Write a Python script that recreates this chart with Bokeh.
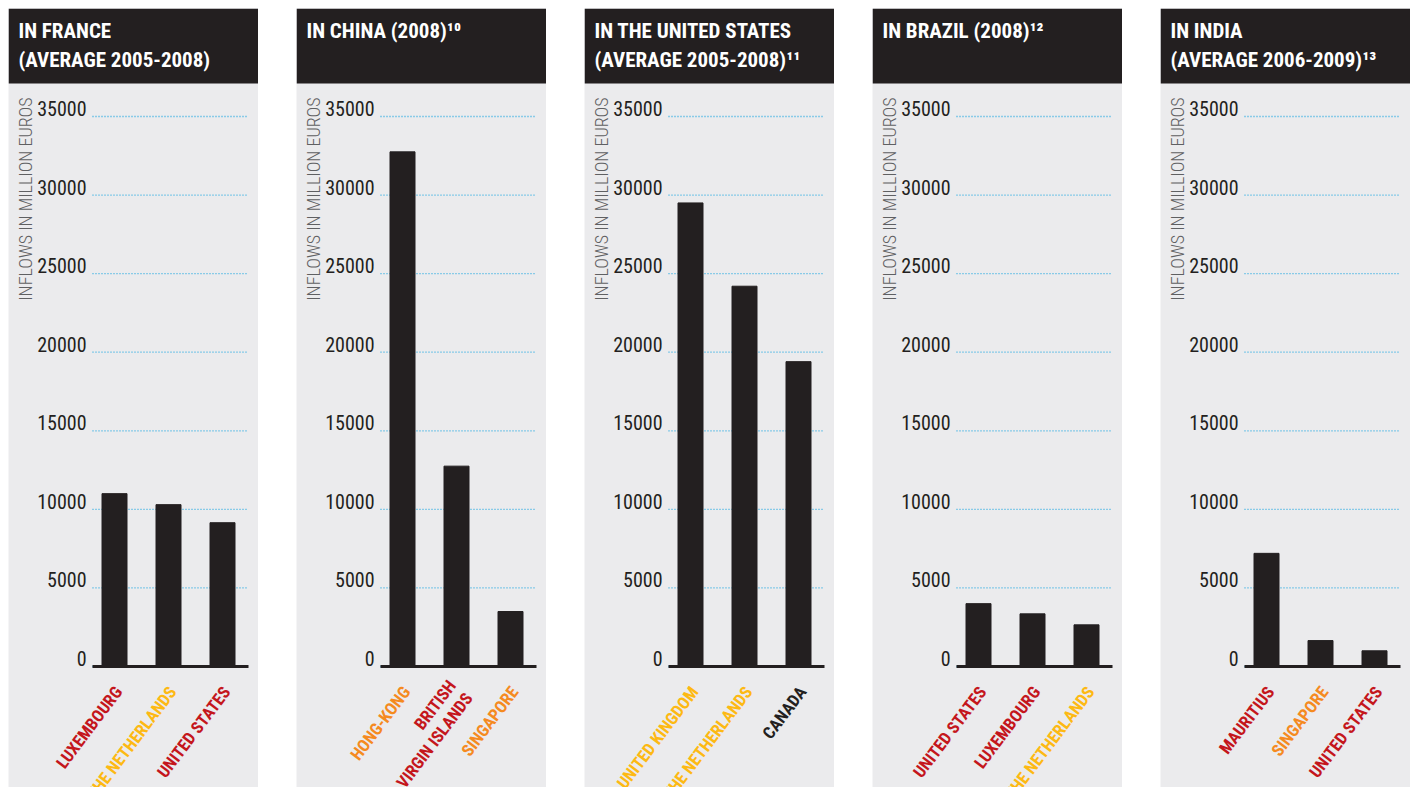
import math
from bokeh.plotting import figure
from bokeh.models import ColumnDataSource, Label, BoxAnnotation, Range1d
from bokeh.layouts import row
from bokeh.embed import file_html
from bokeh.resources import INLINE
from bokeh.core.properties import value

# ---------------- data ----------------
france_titles = ["IN FRANCE", "(AVERAGE 2005-2008)"]
france_countries = ["LUXEMBOURG", "THE NETHERLANDS", "UNITED STATES"]
france_values = [11000, 10300, 9150]

china_titles = ["IN CHINA (2008)\u00b9\u2070"]
china_countries = ["HONG-KONG", "BRITISH\nVIRGIN ISLANDS", "SINGAPORE"]
china_values = [32750, 12750, 3500]

us_titles = ["IN THE UNITED STATES", "(AVERAGE 2005-2008)\u00b9\u00b9"]
us_countries = ["UNITED KINGDOM", "THE NETHERLANDS", "CANADA"]
us_values = [29500, 24200, 19400]

brazil_titles = ["IN BRAZIL (2008)\u00b9\u00b2"]
brazil_countries = ["UNITED STATES", "LUXEMBOURG", "THE NETHERLANDS"]
brazil_values = [4000, 3350, 2650]

india_titles = ["IN INDIA", "(AVERAGE 2006-2009)\u00b9\u00b3"]
india_countries = ["MAURITIUS", "SINGAPORE", "UNITED STATES"]
india_values = [7200, 1650, 1000]

y_ticks = [0, 5000, 10000, 15000, 20000, 25000, 30000, 35000]
y_title = "INFLOWS IN MILLION EUROS"

# ---------------- styles ----------------
RED = "#c4161c"
YELLOW = "#fdb913"
ORANGE = "#f58a1f"
BLACK = "#231f20"
DARK = "#231f20"
BG = "#ebebed"
GRID = "#27aae1"
AXIS_TXT = "#5f6062"
FONT = "Roboto Condensed, DejaVu Sans Condensed, sans-serif"
FONT_LIGHT = "Roboto Condensed Light, Roboto Condensed, DejaVu Sans Condensed, sans-serif"

label_colors = {
    "france": [RED, YELLOW, RED],
    "china": [ORANGE, RED, ORANGE],
    "us": [YELLOW, YELLOW, BLACK],
    "brazil": [RED, RED, YELLOW],
    "india": [RED, ORANGE, RED],
}

# ---------------- panel geometry (pixels within one panel) ----------------
W, H = 250, 779
PX_PER_X = 54.0            # pixels per category step
FIRST_BAR_PX = 106.0       # centre of first bar
PX_PER_Y = 550.0 / 35000   # pixels per million euros
ZERO_PY = 658.0            # pixel row of the zero line
X_LEFT = -FIRST_BAR_PX / PX_PER_X
X_RIGHT = X_LEFT + W / PX_PER_X
Y_TOP = ZERO_PY / PX_PER_Y
Y_BOTTOM = Y_TOP - H / PX_PER_Y


def X(px):
    return X_LEFT + px / PX_PER_X


def Y(py):
    return Y_TOP - py / PX_PER_Y


def panel(titles, countries, values, colors):
    p = figure(width=W, height=H, x_range=Range1d(X_LEFT, X_RIGHT), y_range=Range1d(Y_BOTTOM, Y_TOP),
               x_axis_location=None, y_axis_location=None, output_backend="svg",
               toolbar_location=None, min_border=0, min_border_left=0, min_border_right=0,
               min_border_top=0, min_border_bottom=0)
    p.grid.visible = False
    p.outline_line_color = None
    p.background_fill_color = BG
    p.border_fill_color = BG

    # header band and title
    p.add_layout(BoxAnnotation(bottom=Y(75), fill_color=DARK, fill_alpha=1, line_color=None))
    for i, t in enumerate(titles):
        p.add_layout(Label(x=X(10), y=Y(22 + 29 * i), text=t, text_font=FONT,
                           text_font_size="21px", text_font_style="bold",
                           text_color="white", text_baseline="middle"))

    # dotted value grid and tick labels
    tsrc = ColumnDataSource(dict(y=y_ticks, lab=[str(t) for t in y_ticks]))
    p.segment(x0=X(84), x1=X(239), y0="y", y1="y", source=tsrc,
              line_color=GRID, line_dash="1 2", line_width=1.3)
    p.text(x=X(78), y="y", text="lab", source=tsrc, text_align="right",
           text_baseline="middle", text_font=value(FONT), text_font_size="20px",
           text_color=BLACK, y_offset=-8)

    # y title
    p.add_layout(Label(x=X(17), y=Y(89), text=y_title, angle=math.pi / 2,
                       text_align="right", text_baseline="middle", text_font=FONT_LIGHT,
                       text_font_size="18px", text_color=AXIS_TXT))

    # bars
    xs = list(range(len(countries)))
    src = ColumnDataSource(dict(x=xs, v=values, name=countries, color=colors))
    p.vbar(x="x", top="v", bottom=0, width=25 / PX_PER_X, source=src, color=BLACK)
    p.segment(x0=X(84), x1=X(240), y0=0, y1=0, line_color=BLACK, line_width=3)

    # category labels
    p.text(x="x", y=0, text="name", source=src, text_color="color",
           text_font=value(FONT), text_font_style="bold", text_font_size="17px",
           angle=math.radians(53), text_align="right", text_baseline="middle",
           text_line_height=1.05, x_offset=4, y_offset=22)
    return p


panels = [
    panel(france_titles, france_countries, france_values, label_colors["france"]),
    panel(china_titles, china_countries, china_values, label_colors["china"]),
    panel(us_titles, us_countries, us_values, label_colors["us"]),
    panel(brazil_titles, brazil_countries, brazil_values, label_colors["brazil"]),
    panel(india_titles, india_countries, india_values, label_colors["india"]),
]

layout = row(*panels, spacing=38, margin=(8, 0, 0, 8))

open("out.html", "w").write(file_html(layout, INLINE))
